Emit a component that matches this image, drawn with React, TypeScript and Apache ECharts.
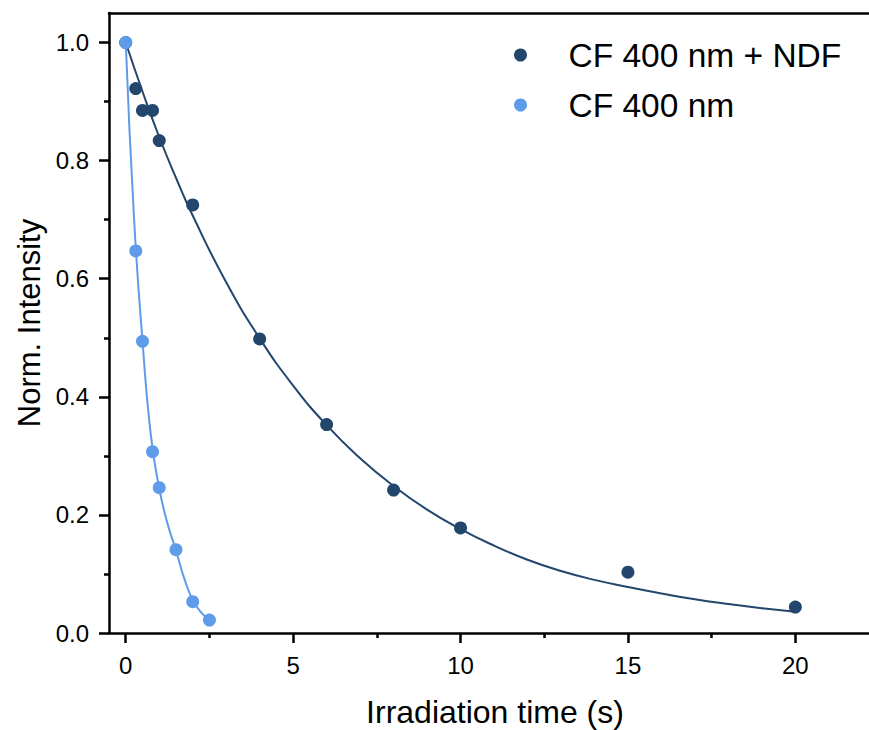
import React, { useEffect, useRef } from "react";
import * as echarts from "echarts";

const ndfLabel = "CF 400 nm + NDF";
const cfLabel = "CF 400 nm";

// Measured points [time (s), normalized intensity]
const ndfTimes = [0, 0.3, 0.5, 0.8, 1.0, 2, 4, 6, 8, 10, 15, 20];
const ndfValues = [1.0, 0.922, 0.885, 0.885, 0.834, 0.725, 0.498, 0.353, 0.242, 0.178, 0.103, 0.044];
const cfTimes = [0, 0.3, 0.5, 0.8, 1.0, 1.5, 2.0, 2.5];
const cfValues = [1.0, 0.647, 0.494, 0.307, 0.246, 0.141, 0.053, 0.022];

// Fitted curves
const ndfFitTimes = [0, 0.5, 1, 1.5, 2, 3, 4, 5, 6, 7, 8, 9, 10, 11, 12, 13, 14, 15, 16, 17, 18, 19, 20];
const ndfFitValues = [1.0, 0.917, 0.84, 0.771, 0.707, 0.594, 0.499, 0.419, 0.352, 0.296, 0.249, 0.209, 0.176, 0.148, 0.124, 0.105, 0.09, 0.078, 0.067, 0.057, 0.049, 0.042, 0.036];
const cfFitTimes = [0, 0.25, 0.5, 0.75, 1.0, 1.25, 1.5, 1.75, 2.0, 2.25, 2.5];
const cfFitValues = [1.0, 0.7, 0.495, 0.335, 0.245, 0.185, 0.14, 0.092, 0.056, 0.035, 0.022];

const xMajor = [0, 5, 10, 15, 20];
const xMinor = [2.5, 7.5, 12.5, 17.5];
const yMajor = [0, 0.2, 0.4, 0.6, 0.8, 1.0];
const yMinor = [0.1, 0.3, 0.5, 0.7, 0.9];

const DARK = "#23466d";
const LIGHT = "#5e9ce9";
const FONT = "Liberation Sans, Arial, sans-serif";

const pairs = (xs: number[], ys: number[]) => xs.map((x, i) => [x, ys[i]]);

export default function App() {
  const ref = useRef<HTMLDivElement>(null);
  useEffect(() => {
    if (!ref.current) return;
    const chart = echarts.init(ref.current, undefined, { renderer: "svg" });
    const X_MIN = -0.5;
    const X_MAX = 22.2;
    const axisLineStyle = { color: "#000", width: 2.5 };
    const baseX = {
      type: "value",
      min: X_MIN,
      max: X_MAX,
      splitLine: { show: false },
    };
    const baseY = {
      type: "value",
      min: 0,
      max: 1.05,
      splitLine: { show: false },
    };
    chart.setOption({
      animation: false,
      backgroundColor: "#fff",
      textStyle: { fontFamily: FONT },
      grid: { left: 109, top: 13, right: 0, bottom: 97, containLabel: false, outerBoundsMode: "none" },
      legend: {
        orient: "vertical",
        left: 509,
        top: 33,
        itemWidth: 86,
        itemHeight: 13,
        itemGap: 16,
        icon: "circle",
        data: [ndfLabel, cfLabel],
        textStyle: { fontSize: 33.5, color: "#000", fontFamily: FONT, lineHeight: 32 },
      },
      xAxis: [
        {
          ...baseX,
          position: "bottom",
          name: "Irradiation time (s)",
          nameLocation: "middle",
          nameGap: 63,
          nameTextStyle: { fontSize: 32, color: "#000", fontFamily: FONT, padding: [0, 0, 0, 12] },
          axisLine: { show: true, onZero: false, lineStyle: axisLineStyle },
          axisTick: { show: true, customValues: xMajor, length: 10, inside: false, lineStyle: { color: "#000", width: 2.5 } },
          axisLabel: { show: true, customValues: xMajor, margin: 20, fontSize: 24, color: "#000", fontFamily: FONT },
        },
        {
          ...baseX,
          position: "bottom",
          axisLine: { show: false, onZero: false },
          axisTick: { show: true, customValues: xMinor, length: 5, inside: false, lineStyle: { color: "#000", width: 2.5 } },
          axisLabel: { show: false },
        },
        {
          ...baseX,
          position: "top",
          axisLine: { show: true, onZero: false, lineStyle: axisLineStyle },
          axisTick: { show: false },
          axisLabel: { show: false },
        },
      ],
      yAxis: [
        {
          ...baseY,
          position: "left",
          name: "Norm. Intensity",
          nameLocation: "middle",
          nameGap: 64,
          nameTextStyle: { fontSize: 31, color: "#000", fontFamily: FONT },
          axisLine: { show: true, onZero: false, lineStyle: axisLineStyle },
          axisTick: { show: true, customValues: yMajor, length: 10, inside: false, lineStyle: { color: "#000", width: 2.5 } },
          axisLabel: {
            show: true,
            customValues: yMajor,
            margin: 20,
            fontSize: 24,
            color: "#000",
            fontFamily: FONT,
            formatter: (v: number) => v.toFixed(1),
          },
        },
        {
          ...baseY,
          position: "left",
          axisLine: { show: false, onZero: false },
          axisTick: { show: true, customValues: yMinor, length: 5, inside: false, lineStyle: { color: "#000", width: 2.5 } },
          axisLabel: { show: false },
        },
      ],
      series: [
        {
          name: "ndfFit",
          type: "line",
          data: pairs(ndfFitTimes, ndfFitValues),
          smooth: true,
          showSymbol: false,
          symbol: "none",
          lineStyle: { color: DARK, width: 2 },
          z: 2,
        },
        {
          name: "cfFit",
          type: "line",
          data: pairs(cfFitTimes, cfFitValues),
          smooth: true,
          showSymbol: false,
          symbol: "none",
          lineStyle: { color: LIGHT, width: 2 },
          z: 2,
        },
        {
          name: ndfLabel,
          type: "scatter",
          data: pairs(ndfTimes, ndfValues),
          symbol: "circle",
          symbolSize: 13,
          itemStyle: { color: DARK, opacity: 1 },
          z: 3,
        },
        {
          name: cfLabel,
          type: "scatter",
          data: pairs(cfTimes, cfValues),
          symbol: "circle",
          symbolSize: 13,
          itemStyle: { color: LIGHT, opacity: 1 },
          z: 4,
        },
      ],
    });
    return () => chart.dispose();
  }, []);
  return <div ref={ref} style={{ width: 869, height: 730, position: "absolute", left: 0, top: 0 }} />;
}
